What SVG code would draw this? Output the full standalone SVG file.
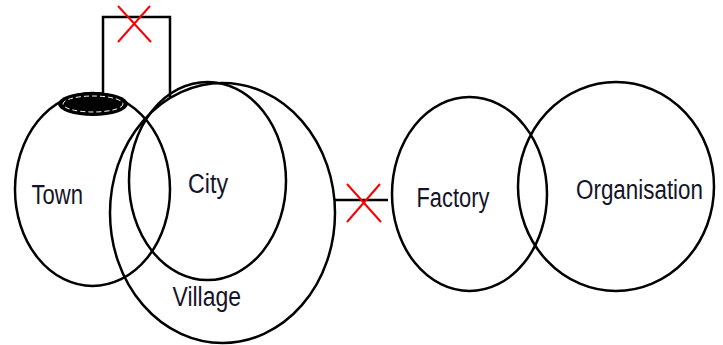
<svg xmlns="http://www.w3.org/2000/svg" width="723" height="345" viewBox="0 0 723 345">
<style>
.shape{fill:none;stroke:#000;stroke-width:2.5}
.wire{fill:none;stroke:#000;stroke-width:2.5}
.cross{stroke:#f00;stroke-width:2;fill:none}
.lbl{font-family:"Liberation Sans",Arial,sans-serif;font-size:22.5px;fill:#141428}
</style>
<rect width="723" height="345" fill="#fff"/>
<g id="connectors">
<path class="wire" d="M103,93 V17 H170 V97"/>
<path class="cross" d="M118,6 L151,42 M150,6 L118,42"/>
<path class="wire" d="M335,200 H388"/>
<path class="cross" d="M347,184 L381,222 M380,184 L347,222"/>
</g>
<g id="town">
<ellipse class="shape" cx="92.5" cy="189.5" rx="77.5" ry="96.5"/>
<ellipse cx="93" cy="104" rx="35" ry="12" fill="#000"/>
<ellipse cx="93" cy="104" rx="30" ry="8" fill="none" stroke="#fff" stroke-width="1" stroke-dasharray="5 3"/>
<text class="lbl" transform="translate(31.5,204.3) scale(1,1.2)" textLength="51.5" lengthAdjust="spacingAndGlyphs">Town</text>
</g>
<g id="village">
<ellipse class="shape" cx="222.5" cy="213" rx="112.5" ry="130"/>
<text class="lbl" transform="translate(172.5,306) scale(1,1.2)" textLength="68.5" lengthAdjust="spacingAndGlyphs">Village</text>
</g>
<g id="city">
<ellipse class="shape" cx="207.5" cy="181" rx="78.5" ry="99"/>
<text class="lbl" transform="translate(188,192.7) scale(1,1.2)" textLength="40" lengthAdjust="spacingAndGlyphs">City</text>
</g>
<g id="factory">
<ellipse class="shape" cx="469.5" cy="194" rx="77.5" ry="97"/>
<text class="lbl" transform="translate(416.5,206.7) scale(1,1.2)" textLength="73" lengthAdjust="spacingAndGlyphs">Factory</text>
</g>
<g id="organisation">
<ellipse class="shape" cx="616" cy="186.5" rx="98" ry="104.5"/>
<text class="lbl" transform="translate(576,199.3) scale(1,1.2)" textLength="127" lengthAdjust="spacingAndGlyphs">Organisation</text>
</g>
</svg>
